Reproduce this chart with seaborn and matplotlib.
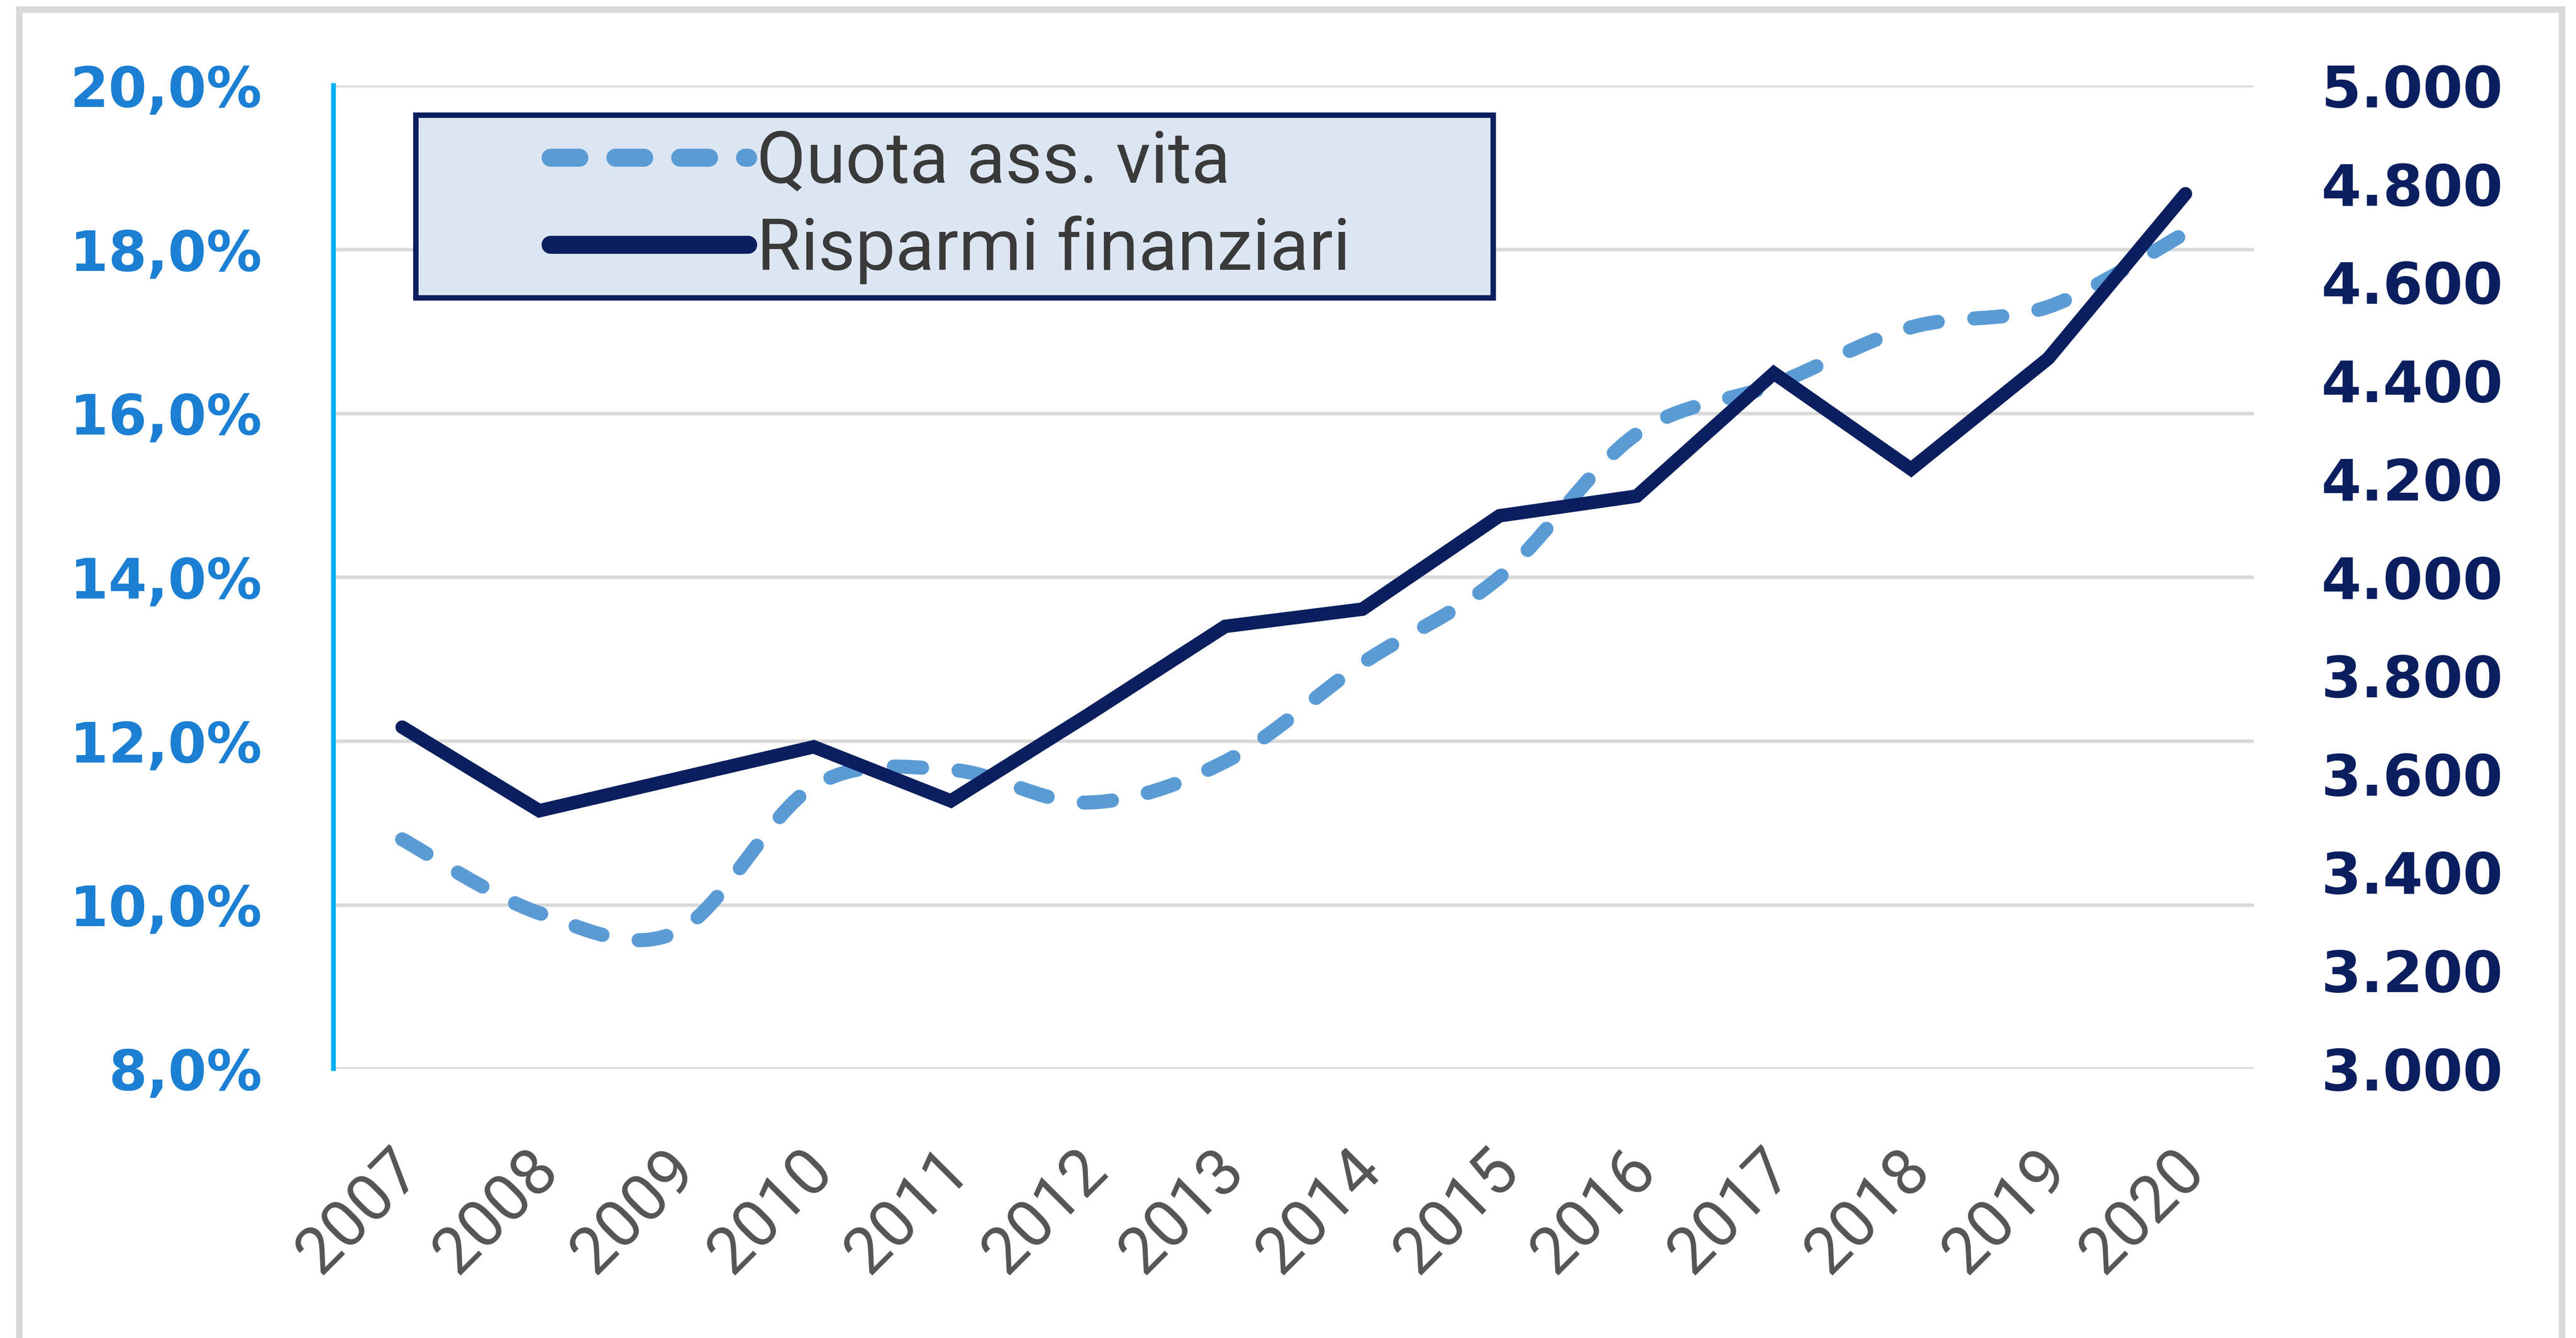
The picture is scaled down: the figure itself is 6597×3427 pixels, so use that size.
import numpy as np
import pandas as pd
import matplotlib.pyplot as plt
import seaborn as sns
from matplotlib.path import Path
from matplotlib.patches import PathPatch, Rectangle
from matplotlib.lines import Line2D
from matplotlib.legend_handler import HandlerLine2D
from matplotlib.ticker import FuncFormatter
from matplotlib.transforms import ScaledTranslation

sns.set_theme(style='white')
plt.rcParams['font.family'] = ['DejaVu Sans']

# data
years = [2007, 2008, 2009, 2010, 2011, 2012, 2013, 2014, 2015, 2016, 2017, 2018, 2019, 2020]
quota_vita = [10.8, 9.9, 9.67, 11.45, 11.65, 11.25, 11.75, 12.95, 14.0, 15.75, 16.35, 17.05, 17.3, 18.2]
risparmi = [3695, 3525, 3590, 3655, 3545, 3720, 3900, 3935, 4125, 4165, 4415, 4220, 4445, 4780]
label_quota = 'Quota ass. vita'
label_risp = 'Risparmi finanziari'

light_blue = '#5B9BD5'
navy = '#0B1F5E'
left_col = '#1B7FD3'
grid_col = '#D9D9D9'

df = pd.DataFrame({'anno': years, 'quota': quota_vita, 'risparmi': risparmi})

fig = plt.figure(figsize=(6597 / 400, 3427 / 400), dpi=400)
ax = fig.add_axes([0.1295, 0.2012, 0.7455, 0.7348])
ax2 = ax.twinx()


def smooth_path(xs, ys):
    # excel-like smoothed line: catmull-rom segments as cubic bezier
    pts = np.column_stack([xs, ys]).astype(float)
    n = len(pts)
    verts = [pts[0]]
    codes = [Path.MOVETO]
    for i in range(n - 1):
        p0 = pts[i - 1] if i > 0 else pts[i]
        p1 = pts[i]
        p2 = pts[i + 1]
        p3 = pts[i + 2] if i + 2 < n else pts[i + 1]
        verts += [p1 + (p2 - p0) / 6, p2 - (p3 - p1) / 6, p2]
        codes += [Path.CURVE4] * 3
    return Path(verts, codes)


class OffsetHandler(HandlerLine2D):
    # legend line drawn only on the right part of the handle box
    def __init__(self, start=0.4, **kw):
        super().__init__(**kw)
        self.start = start

    def get_xdata(self, legend, xdescent, ydescent, width, height, fontsize):
        xd = np.array([-xdescent + width * self.start, -xdescent + width])
        return xd, xd


patch = PathPatch(smooth_path(df['anno'], df['quota']), fill=False,
                  edgecolor=light_blue, linewidth=6.5, linestyle=(0, (2.0, 2.6)))
patch.set_capstyle('round')
ax.add_patch(patch)

sns.lineplot(data=df, x='anno', y='risparmi', ax=ax2, color=navy, linewidth=6.2)
for ln in ax2.lines:
    ln.set_solid_joinstyle('miter')

ax.set_xlim(2006.5, 2020.5)
ax.set_ylim(8, 20)
ax.set_yticks(np.arange(8, 20.1, 2))
ax.yaxis.set_major_formatter(FuncFormatter(lambda v, p: f'{v:.1f}%'.replace('.', ',')))
ax2.set_ylim(3000, 5000)
ax2.set_yticks(np.arange(3000, 5001, 200))
ax2.yaxis.set_major_formatter(FuncFormatter(lambda v, p: f'{int(v):,}'.replace(',', '.')))

ax.set_xticks(years)
ax.set_xticklabels([str(y) for y in years], rotation=45, ha='right',
                   rotation_mode='anchor', color='#555555', fontsize=30,
                   family=['Roboto', 'DejaVu Sans'])
ax.tick_params(axis='x', length=0, pad=32)
ax.tick_params(axis='y', length=0, pad=33, labelsize=25.5, labelcolor=left_col)
ax2.tick_params(axis='y', length=0, pad=31, labelsize=26.5, labelcolor=navy)
for t in ax.get_yticklabels() + ax2.get_yticklabels():
    t.set_fontweight('bold')

ax.set_xlabel('')
ax.set_ylabel('')
ax2.set_xlabel('')
ax2.set_ylabel('')

ax.grid(axis='y', color=grid_col, linewidth=1.6)
ax.grid(axis='x', visible=False)
ax2.grid(False)
for a in (ax, ax2):
    for s in a.spines.values():
        s.set_visible(False)
ax.spines['left'].set_visible(True)
ax.spines['left'].set_color('#00B0F0')
ax.spines['left'].set_linewidth(2.2)

h_quota = Line2D([], [], color=light_blue, linewidth=8.3, linestyle=(0, (1.6, 2.0)),
                 dash_capstyle='round')
h_risp = Line2D([], [], color=navy, linewidth=8.3)
leg = ax2.legend([h_quota, h_risp], [label_quota, label_risp], loc='upper left',
                 bbox_to_anchor=(0.0429, 0.5, 0.561, 0.47), mode='expand',
                 borderaxespad=0, frameon=True, fancybox=False,
                 handlelength=4.45, handletextpad=0.12, borderpad=0.19,
                 labelspacing=0.26,
                 handler_map={h_quota: OffsetHandler(0.38), h_risp: OffsetHandler(0.38)},
                 prop={'family': ['Roboto', 'DejaVu Sans'], 'size': 33})
leg.get_frame().set_facecolor('#DCE6F2')
leg.get_frame().set_edgecolor(navy)
leg.get_frame().set_linewidth(2.5)
leg.get_frame().set_alpha(1)
for t in leg.get_texts():
    t.set_color('#3A3A3A')

# shift rotated year labels a little to the left
shift = ScaledTranslation(-6 / 72, 0, fig.dpi_scale_trans)
for t in ax.get_xticklabels():
    t.set_transform(t.get_transform() + shift)

fig.patches.append(Rectangle((0.0075, -0.05), 0.987, 1.043, transform=fig.transFigure,
                             fill=False, edgecolor='#D9D9D9', linewidth=3))

fig.savefig('out.png', dpi=400, facecolor='white')
